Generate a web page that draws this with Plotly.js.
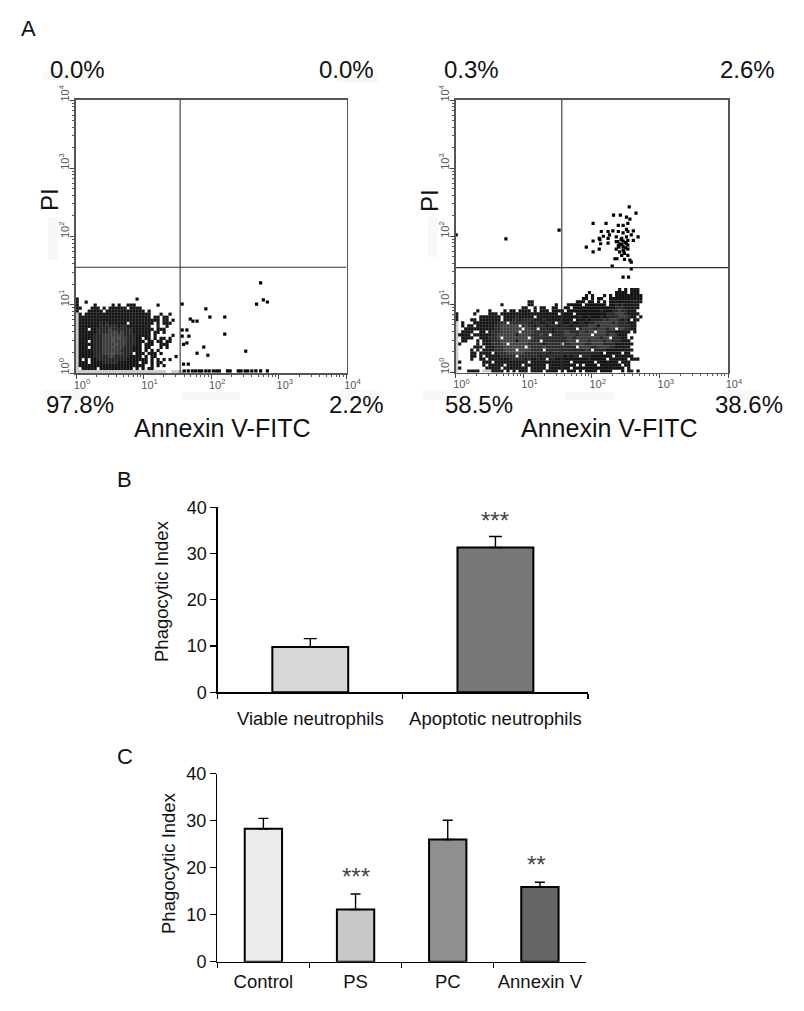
<!DOCTYPE html>
<html><head><meta charset="utf-8">
<script src="https://cdn.plot.ly/plotly-3.0.1.min.js"></script>
<style>html,body{margin:0;padding:0;background:#fff}</style></head>
<body><div id="chart" style="width:804px;height:1011px"></div>
<script>
// ---------- Panel A, left dot plot: density rows (top row first); digit = grey level, '.' = empty
const leftRows = [
"1...................1...............",
"1..1................................",
"1.....1.....1.1..111.......1........",
"11...111.1.111111.1111..............",
"1...11111.1111111111111.1...........",
"81.1111111111111111111111...1..1....",
"8111111111111111111111111.11.11.....",
"8111111111111111111111111111.11.1...",
"81111111212111111.11111111.1.111....",
"8111111122222212211111111..1..1.....",
"8111.112222322222221111111.111......",
"8111111222233323222111111.11.1......",
"8111112223333333222211111.1.....1...",
"8111112223334343322211.11.1.11.1....",
"8111.122233343333222111.11.11.11....",
"8111112223333433322211.111..111.....",
"8111.12223334333222111.11...1.1.....",
"8111112223333332222111.1.1.1........",
"8111112223334333222.111.111.1.......",
"8111112222233222221111.1.11......1..",
"81.1.1122222222221111111.1.1.1.1....",
"8111.1111222221111111.11.1.11.......",
"81111111111111111111111..1.1.1......",
"8.11111.11111111111.1.1.11..........",
"888888888888888888888888888888..8888"
];
// isolated events (log10 of channel value)
const leftSparseX = [2.73,2.67,2.77,2.83,1.92,1.98,2.20,2.20,2.51,1.89,1.79,1.95,1.69,1.73,1.79,1.57,1.57,1.64,1.57,1.67,1.64,1.59,1.59,1.66,
  1.60,1.66,1.72,1.77,1.82,1.86,1.92,1.97,2.03,2.08,2.12,2.24,2.28,2.40,2.44,2.50,2.54,2.60,2.66,2.73,2.83];
const leftSparseY = [1.32,1.01,1.07,1.04,0.94,0.82,0.82,0.57,0.32,0.38,0.29,0.26,0.79,0.76,0.76,1.01,0.63,0.63,0.54,0.54,0.44,0.42,0.13,0.13,
  0.03,0.03,0.03,0.03,0.03,0.03,0.03,0.03,0.03,0.03,0.03,0.03,0.03,0.03,0.03,0.03,0.03,0.03,0.03,0.03,0.03];

// ---------- Panel A, right dot plot
const rightRows = [
"......................................................1.1.111.",
"............................................1........1111.111",
"...........................................1.1...1.1.111111111",
"..........................................11.1.11..11111111111",
"........................11..............111.11.1.1.11111111111",
"...............1........11.......1...11111.1111111.1121211111.",
"......................11..1.11..11..11.1111111111111122211111.",
".......1...1....1.11.1111.1.111.1111.11111111111211122322111.",
"1.....1....111.1111111111111111111.1111.111111111122233321111.",
"1.......1111111.1111211111.111111111111112112111212222333211.1",
"1....11.1111111.11122122221112111111111.111212222323332121.11",
"8.1...11111111222.222222212211221.21112112212233333323222111.",
"8.1.11.11111122333333.23221222122212221222223331333333222211.",
"8..1111111111223333333.3322.222212222222.233332333233.332211..",
"8.1111..11.1222333333.333322222212223322233233.33322211111.1.",
"81111.1111112233333313333222322.2222333323333.33332332111..",
"8.1111..1112223.33333333.32222222222233233333333233.22211.1.",
"8.11...1.1112223333313333222.22222222333.33323333233222111..",
"81.....1.11122233.33333322222122222.22333332233332222111111",
"8.....111.1112223333333.3222232222222222.33332233332211111..",
"8....1.1.11112223333.33332222.222222222222232.2222111111111..",
"8....11.1111.122233333322222222122222222222222221.11111.11.",
"8....11.1.1111122222.22222221212222212122.2221111111.111111.",
"8....1..11.1111111222221211211.1211111111111211111.111111.111.",
"81.......111.11111111111.1111111111111.1111111.1111111.111...",
"8........1.11111.11111.1111111.111111111.1.1111.1111111.11...",
"81........11111.11111111.11111.1111111.11111111111111111.1...",
"8...1111.8881111.1.1.111.1111.1111.1.111.1.1111.1111...1.11.."
];
const rightSparseX = [2.55,2.65,2.32,2.42,2.51,2.56,2.53,2.39,2.46,2.21,2.02,2.51,2.14,2.24,2.31,2.39,2.46,2.53,2.61,2.11,2.17,2.26,2.36,2.44,2.51,2.58,2.68,2.02,2.12,2.24,2.46,2.53,2.36,2.41,2.51,2.61,2.13,2.24,2.39,2.46,2.53,1.92,2.11,2.36,2.46,2.53,2.02,2.41,2.48,2.44,2.53,2.34,2.37,2.48,2.56,2.58,2.30,2.58,
  0.01,0.74,1.52,2.46,2.54,2.43,2.49,2.40,2.47,2.38,2.44,2.50,2.68];
const rightSparseY = [2.43,2.34,2.31,2.31,2.28,2.25,2.19,2.16,2.16,2.19,2.19,2.10,2.07,2.07,2.08,2.07,2.05,2.07,2.08,1.97,2.00,2.02,1.99,1.97,1.99,2.02,1.99,1.93,1.95,1.97,1.93,1.94,1.92,1.89,1.89,1.94,1.89,1.90,1.86,1.85,1.87,1.84,1.81,1.81,1.80,1.81,1.77,1.77,1.75,1.72,1.72,1.67,1.67,1.66,1.65,1.62,1.56,1.52,
  2.02,1.96,2.09,1.40,1.40,1.95,1.91,1.84,1.78,1.92,1.88,1.83,0.02];

// quadrant gates (log10)
const leftGateX = 1.54, leftGateY = 1.55, rightGateX = 1.56, rightGateY = 1.54;

// ---------- Panel B
const catsB = ["Viable neutrophils","Apoptotic neutrophils"];
const valsB = [9.8,31.3];
const errB  = [1.8,2.4];
const colorsB = ["#d8d8d8","#787878"];

// ---------- Panel C
const catsC = ["Control","PS","PC","Annexin V"];
const valsC = [28.3,11.1,26.0,15.9];
const errC  = [2.2,3.3,4.1,1.0];
const colorsC = ["#ebebeb","#c8c8c8","#8f8f8f","#666666"];

const logTickVals = [1,10,100,1000,10000];
const logTickText = ["10<sup>0</sup>","10<sup>1</sup>","10<sup>2</sup>","10<sup>3</sup>","10<sup>4</sup>"];
const pctLeft = ["0.0%","0.0%","97.8%","2.2%"];
const pctRight = ["0.3%","2.6%","58.5%","38.6%"];

// ---------- layout helpers
const W=804,H=1011;
const dx=([a,b])=>[a/W,b/W], dy=([top,bot])=>[1-bot/H,1-top/H];
const FONT='"Liberation Sans",Arial,sans-serif';
const CELL=0.0443;

function cloud(rows,sx,sy,xa,ya){
  const x=[],y=[],c=[];
  rows.forEach((r,i)=>{
    const row=rows.length-1-i;
    for(let k=0;k<r.length;k++){
      if(r[k]==='.')continue;
      x.push(Math.pow(10,(k+0.4)*CELL)); y.push(Math.pow(10,(row+0.45)*CELL)); c.push(+r[k]);
    }
  });
  sx.forEach((v,i)=>{x.push(Math.pow(10,v));y.push(Math.pow(10,sy[i]));c.push(0);});
  return {type:'scatter',mode:'markers',x,y,xaxis:xa,yaxis:ya,hoverinfo:'skip',showlegend:false,
    marker:{symbol:'square',size:3.2,line:{width:0},color:c,cmin:0,cmax:9,
      colorscale:[[0,'#000000'],[0.11,'#141414'],[0.22,'#282828'],[0.33,'#3e3e3e'],[0.44,'#505050'],[1,'#e8e8e8']],showscale:false}};
}
function gate(gx,gy,xa,ya){
  const gX=Math.pow(10,gx),gY=Math.pow(10,gy);
  return {type:'scatter',mode:'lines',x:[gX,gX,null,1,10000],y:[1,10000,null,gY,gY],xaxis:xa,yaxis:ya,
    line:{color:'#333',width:1.1},hoverinfo:'skip',showlegend:false};
}
function bars(cats,vals,err,cols,xa,ya,gap,cap){
  return {type:'bar',x:cats,y:vals,xaxis:xa,yaxis:ya,width:gap,showlegend:false,
    marker:{color:cols,line:{color:'#000',width:2}},
    error_y:{type:'data',symmetric:false,array:err,arrayminus:cats.map(()=>0),color:'#000',thickness:1.4,width:cap}};
}
function logAxis(px,isY,anchor){
  const o={type:'log',range:[0,4],domain:isY?dy(px):dx(px),anchor,tickmode:'array',tickvals:logTickVals,ticktext:logTickText,
    ticks:'outside',ticklen:4,tickwidth:1,tickcolor:'#444',showgrid:false,zeroline:false,
    showline:true,linecolor:'#555',linewidth:1.6,mirror:true,
    tickfont:{family:FONT,size:11,color:'#555'},ticklabelstandoff:-3,
    minor:{dtick:'D1',ticks:'outside',ticklen:2,tickwidth:1,tickcolor:'#555',showgrid:false}};
  if(isY){o.tickangle=-90;o.ticklabelshift=-5;}else{o.tickangle=0;o.ticklabelshift=6;}
  return o;
}
function barY(px,anchor){
  return {domain:dy(px),anchor,range:[0,40],tickvals:[0,10,20,30,40],ticks:'outside',ticklen:6,tickwidth:1.2,tickcolor:'#000',
    showline:true,linecolor:'#000',linewidth:1.3,showgrid:false,zeroline:false,tickfont:{family:FONT,size:18,color:'#111'}};
}
function barX(px,anchor,size,standoff){
  return {domain:dx(px),anchor,type:'category',tickson:'boundaries',ticks:'outside',ticklen:5,tickwidth:1.2,tickcolor:'#000',
    ticklabelstandoff:standoff,showline:true,linecolor:'#000',linewidth:1.3,showgrid:false,tickfont:{family:FONT,size,color:'#111'}};
}
function note(text,x,y,size,anchor,extra){
  return Object.assign({text,xref:'paper',yref:'paper',x:x/W,y:1-y/H,xanchor:anchor||'center',yanchor:'middle',showarrow:false,
    font:{family:FONT,size,color:'#111'}},extra||{});
}
function smudge([x0,y0,x1,y1]){
  return {type:'rect',xref:'paper',yref:'paper',x0:x0/W,x1:x1/W,y0:1-y1/H,y1:1-y0/H,layer:'below',fillcolor:'#f8f8f8',line:{width:0}};
}
const smudges=[[48,217,58,260],[43,390,87,400],[182,392,240,400],[340,390,378,400],[43,72,90,80],[337,73,378,83],
  [428,217,438,257],[423,390,460,400],[565,392,615,400],[723,390,760,400]];

const data=[
  cloud(leftRows,leftSparseX,leftSparseY,'x','y'), gate(leftGateX,leftGateY,'x','y'),
  cloud(rightRows,rightSparseX,rightSparseY,'x2','y2'), gate(rightGateX,rightGateY,'x2','y2'),
  bars(catsB,valsB,errB,colorsB,'x3','y3',0.41,6.5),
  bars(catsC,valsC,errC,colorsC,'x4','y4',0.405,5)
];
const starFont={family:FONT,size:24,color:'#444'};
const layout={
  width:W,height:H,margin:{l:0,r:0,t:0,b:0},paper_bgcolor:'#fff',plot_bgcolor:'rgba(0,0,0,0)',showlegend:false,
  font:{family:FONT},
  xaxis:logAxis([76,346.5],false,'y'), yaxis:logAxis([100,373],true,'x'),
  xaxis2:logAxis([455.5,728],false,'y2'), yaxis2:logAxis([100,372.5],true,'x2'),
  xaxis3:barX([217.7,588],'y3',18.5,9), yaxis3:barY([507.3,692.3],'x3'),
  xaxis4:barX([217.3,586],'y4',18.5,3), yaxis4:barY([773.7,961.7],'x4'),
  shapes:smudges.map(smudge),
  annotations:[
    note('A',28,28,22),note('B',125,480,22),note('C',125,756,22),
    note(pctLeft[0],48,69,24,'left'),note(pctLeft[1],376,69,24,'right'),note(pctLeft[2],44,405,24,'left'),note(pctLeft[3],386,405,24,'right'),
    note(pctRight[0],442,69,24,'left'),note(pctRight[1],777,69,24,'right'),note(pctRight[2],443,405,24,'left'),note(pctRight[3],785,405,24,'right'),
    note('Annexin V-FITC',221.5,428,25),note('Annexin V-FITC',609,428,25),
    note('PI',50,200,24,'center',{textangle:-90}),note('PI',430,200,24,'center',{textangle:-90}),
    note('Phagocytic Index',161,591,18.5,'center',{textangle:-90}),
    note('Phagocytic Index',168,863,18.5,'center',{textangle:-90}),
    {text:'***',xref:'x3',yref:'y3',x:catsB[1],y:valsB[1]+errB[1]+0,yanchor:'bottom',showarrow:false,font:starFont},
    {text:'***',xref:'x4',yref:'y4',x:catsC[1],y:valsC[1]+errC[1]+0.5,yanchor:'bottom',showarrow:false,font:starFont},
    {text:'**',xref:'x4',yref:'y4',x:catsC[3],xshift:-3,y:valsC[3]+errC[3]+0.5,yanchor:'bottom',showarrow:false,font:starFont}
  ]
};
Plotly.newPlot('chart',data,layout,{displayModeBar:false,staticPlot:true});
</script></body></html>
